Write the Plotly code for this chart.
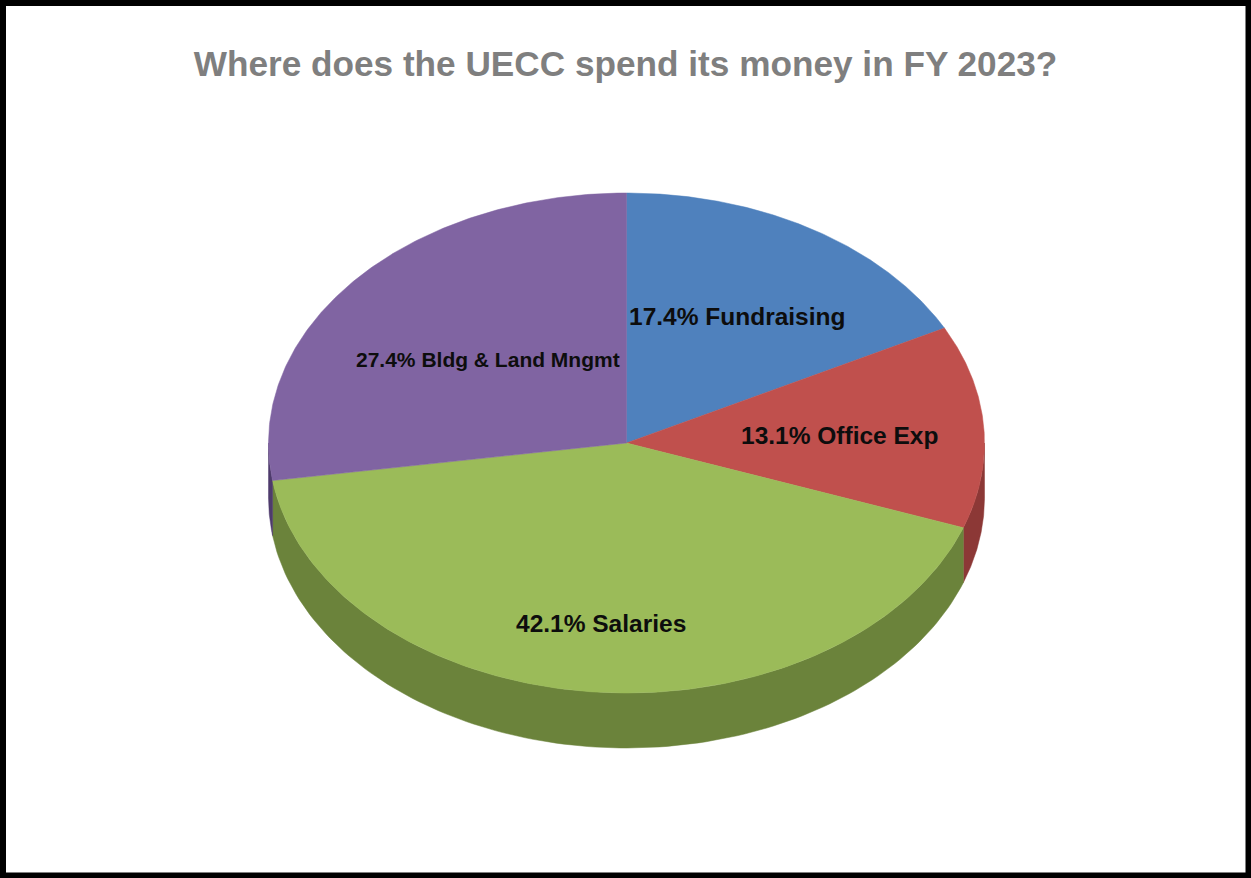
"""
3D-style pie of UECC FY 2023 spending, built from filled scatter polygons
"""

import numpy as np
import plotly.graph_objects as go

# data
categories = ['Fundraising', 'Office Exp', 'Salaries', 'Bldg & Land Mngmt']
shares = [17.4, 13.1, 42.1, 27.4]
top_colors = ['#4f81bd', '#c0504d', '#9bbb59', '#8064a2']
side_colors = ['#3a6190', '#8c3836', '#6b833b', '#4e3b6c']

# geometry of the tilted pie (pixel units on the axes)
W, H = 1251, 878
CX, CY = 626.5, 443
RX, RY = 358, 250
DEPTH = 55

# label anchors and sizes (x, y, font size)
label_pos = [(737, 316, 24.5), (839, 435, 24.5), (601, 623, 24.5), (488, 359, 21)]


def ellipse_pt(theta_deg, dy=0):
    t = np.radians(theta_deg)
    return CX + RX * np.sin(t), CY - RY * np.cos(t) + dy


fig = go.Figure()

# cumulative angles, clockwise from 12 o'clock
total = sum(shares)
bounds = np.concatenate([[0], np.cumsum(shares) / total * 360])

# side walls first (only the front half, 90..270 deg, is visible)
for i in range(len(shares)):
    a0, a1 = max(bounds[i], 90), min(bounds[i + 1], 270)
    if a1 <= a0:
        continue
    th = np.linspace(a0, a1, 120)
    xt, yt = ellipse_pt(th)
    xb, yb = ellipse_pt(th[::-1], DEPTH)
    fig.add_trace(go.Scatter(
        x=np.concatenate([xt, xb, xt[:1]]),
        y=np.concatenate([yt, yb, yt[:1]]),
        fill='toself', mode='lines',
        fillcolor=side_colors[i],
        line=dict(color=side_colors[i], width=0.5),
        hoverinfo='skip', showlegend=False
    ))

# top faces
for i in range(len(shares)):
    th = np.linspace(bounds[i], bounds[i + 1], 200)
    xa, ya = ellipse_pt(th)
    fig.add_trace(go.Scatter(
        x=np.concatenate([[CX], xa, [CX]]),
        y=np.concatenate([[CY], ya, [CY]]),
        fill='toself', mode='lines',
        fillcolor=top_colors[i],
        line=dict(color=top_colors[i], width=0.5),
        hoverinfo='text', text=f"{categories[i]}: {shares[i]}%",
        showlegend=False
    ))

# slice labels
for (lx, ly, fs), cat, val in zip(label_pos, categories, shares):
    fig.add_annotation(
        x=lx, y=ly, text=f"<b>{val:.1f}% {cat}</b>",
        showarrow=False, xanchor='center', yanchor='middle',
        font=dict(family='Arial, Liberation Sans, sans-serif', size=fs, color='#0d0d0d')
    )

# outer frame
fig.add_shape(type='rect', x0=3, x1=1248.5, y0=3, y1=875.5,
              line=dict(color='black', width=6), layer='above')

fig.update_layout(
    width=W, height=H,
    margin=dict(l=0, r=0, t=0, b=0),
    paper_bgcolor='white', plot_bgcolor='white',
    title=dict(
        text='<b>Where does the UECC spend its money in FY 2023?</b>',
        x=0.5, xanchor='center', xref='paper',
        y=1 - 64 / H, yanchor='middle', yref='container',
        font=dict(family='Arial, Liberation Sans, sans-serif', size=35.2, color='#7f7f7f')
    ),
    xaxis=dict(range=[0, W], visible=False, fixedrange=True),
    yaxis=dict(range=[H, 0], visible=False, fixedrange=True),
    showlegend=False
)

fig.write_html("out.html", post_script="document.body.style.margin='0';",
               config={'displayModeBar': False})
